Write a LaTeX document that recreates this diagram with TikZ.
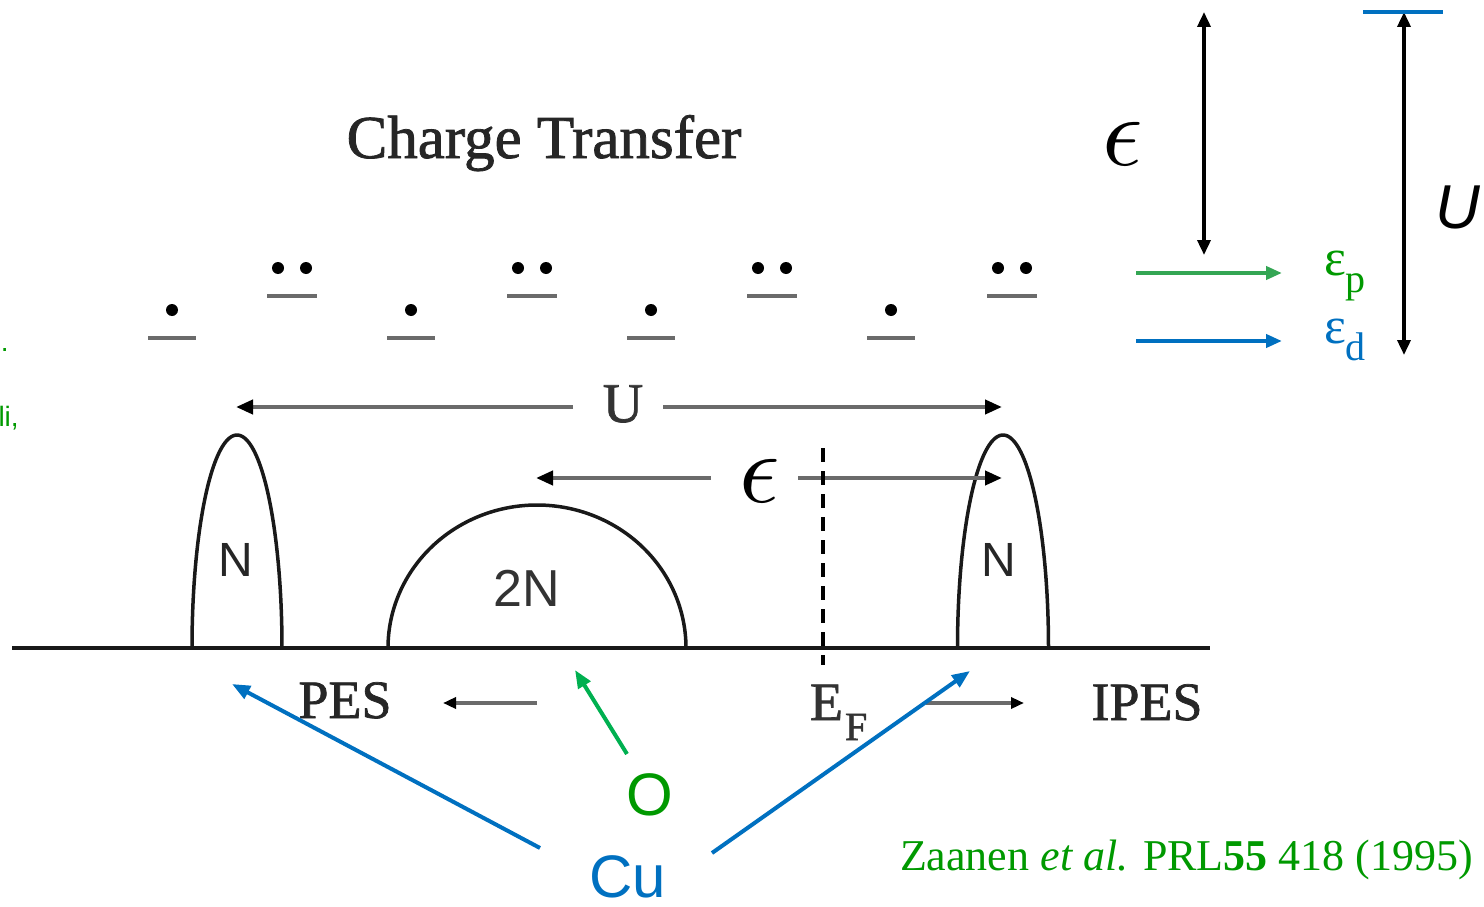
\documentclass[tikz,border=0pt]{standalone}
\usepackage{fontspec}
\usepackage{graphicx}
\usetikzlibrary{arrows.meta}
\newfontfamily\tms{Liberation Serif}
\newfontfamily\tmsb[FakeBold=1.3]{Liberation Serif}
\newfontfamily\ars{Liberation Sans}
\definecolor{cublue}{RGB}{0,112,192}
\definecolor{ogreen}{RGB}{0,176,80}
\definecolor{txtgreen}{RGB}{0,153,0}
\definecolor{epgreen}{RGB}{52,166,84}
\newcommand{\fsz}[1]{\fontsize{#1}{#1}\selectfont}
\newcommand{\bigeps}{\scalebox{10}{$\epsilon$}}
\begin{document}
\begin{tikzpicture}[x=1pt,y=-1pt,
  lbl/.style={inner sep=0pt, outer sep=0pt, anchor=base},
  scanline/.style={draw=black!58, line width=4pt},
  scanarr/.style={scanline, -{Triangle[length=17pt,width=14pt,color=black]}},
  smallarr/.style={scanline, -{Triangle[length=13pt,width=11pt,color=black]}},
  band/.style={draw=black!90, line width=3.5pt},
  levelline/.style={draw=black!58, line width=4pt},
  dotmark/.style={circle, fill=black, draw=none, inner sep=0pt, minimum size=12pt},
  cuarr/.style={draw=cublue, line width=4pt, -{Triangle[length=18pt,width=14pt]}},
  oarr/.style={draw=ogreen, line width=4pt, -{Triangle[length=18pt,width=14pt]}},
  dblarr/.style={draw=black, line width=3.5pt, {Triangle[length=15pt,width=13pt]}-{Triangle[length=15pt,width=13pt]}},
  levarr/.style={line width=4pt, -{Triangle[length=16pt,width=13pt]}}
]
\useasboundingbox (0,0) rectangle (1484,907);

% title
\node[lbl] (title) at (544,158) {\tmsb\fsz{61}\color{black!85}Charge Transfer};

% left-edge cut-off texts
\node[lbl, anchor=base west] (dotL) at (1,351) {\ars\fsz{28}\color{txtgreen}.};
\node[lbl, anchor=base west] (liL) at (-1.5,426) {\ars\fsz{28}\color{txtgreen}li,};

% levels with dots
\foreach \i/\x in {1/172,2/411,3/651,4/891}{
  \coordinate (sl\i) at (\x-24,338);
  \coordinate (sr\i) at (\x+24,338);
  \draw[levelline] (sl\i) -- (sr\i);
  \node[dotmark] (sd\i) at (\x,310) {};
}
\foreach \i/\x in {1/292,2/532,3/772,4/1012}{
  \coordinate (dl\i) at (\x-25,296);
  \coordinate (dr\i) at (\x+25,296);
  \draw[levelline] (dl\i) -- (dr\i);
  \node[dotmark] (da\i) at (\x-14,268) {};
  \node[dotmark] (db\i) at (\x+14,268) {};
}

% U arrow
\node[lbl] (Umid) at (623,422) {\tmsb\fsz{56}\color{black!80}U};
\coordinate (UL0) at (573,407); \coordinate (UL1) at (236,407);
\coordinate (UR0) at (663,407); \coordinate (UR1) at (1002,407);
\draw[scanarr] (UL0) -- (UL1);
\draw[scanarr] (UR0) -- (UR1);

% epsilon arrow
\node[lbl] (epsmid) at (760,502) {\bigeps};
\coordinate (EL0) at (711,478); \coordinate (EL1) at (536,478);
\coordinate (ER0) at (798,478); \coordinate (ER1) at (1002,478);
\draw[scanarr] (EL0) -- (EL1);

% bands
\draw[band] plot[domain=180:0,samples=90,smooth] ({237+45*cos(\x)},{648-213*sin(\x)});
\draw[band] plot[domain=180:0,samples=90,smooth] ({537+149*cos(\x)},{648-143*sin(\x)});
\draw[band] plot[domain=180:0,samples=90,smooth] ({1003+45.5*cos(\x)},{648-213*sin(\x)});
\draw[scanarr] (ER0) -- (ER1);

\node[lbl] (N1) at (236,576) {\ars\fsz{48}\color{black!85}N};
\node[lbl] (N2) at (999,576) {\ars\fsz{48}\color{black!85}N};
\node[lbl] (N2N) at (527,606) {\ars\fsz{52}\color{black!80}2N};

% Fermi level dashed line
\coordinate (EFt) at (823,448); \coordinate (EFb) at (823,665);
\draw[line width=4pt, dash pattern=on 14pt off 9pt] (EFt) -- (EFb);

% baseline
\coordinate (B0) at (12,648); \coordinate (B1) at (1210,648);
\draw[line width=4pt, black!90] (B0) -- (B1);

% bottom labels
\node[lbl] (PES) at (345,718) {\tmsb\fsz{54}\color{black!85}PES};
\coordinate (P0) at (537,703); \coordinate (P1) at (443,703);
\draw[smallarr] (P0) -- (P1);
\node[lbl, anchor=base west] (EF) at (810,720) {\tmsb\fsz{54}\color{black!80}E};
\node[lbl, anchor=base west] (EFs) at (845,740) {\tmsb\fsz{40}\color{black!80}F};
\coordinate (I0) at (926,703); \coordinate (I1) at (1024,703);
\draw[smallarr] (I0) -- (I1);
\node[lbl] (IPES) at (1147,720) {\tmsb\fsz{54}\color{black!85}IPES};

% Cu and O pointers
\node[lbl] (O) at (650,815) {\ars\fsz{60}\color{txtgreen}O};
\node[lbl] (Cu) at (628,897) {\ars\fsz{60}\color{cublue}Cu};
\coordinate (cuL0) at (540,848); \coordinate (cuL1) at (232,684);
\coordinate (cuR0) at (712,853); \coordinate (cuR1) at (970,671);
\coordinate (o0) at (627,754); \coordinate (o1) at (575,670);
\draw[cuarr] (cuL0) -- (cuL1);
\draw[cuarr] (cuR0) -- (cuR1);
\draw[oarr] (o0) -- (o1);

% right energy scheme
\coordinate (e0) at (1204,12); \coordinate (e1) at (1204,255);
\draw[dblarr] (e0) -- (e1);
\node[lbl] (epsR) at (1123,165) {\bigeps};
\coordinate (u0) at (1404,12); \coordinate (u1) at (1404,355);
\draw[dblarr] (u0) -- (u1);
\coordinate (ut0) at (1363,12); \coordinate (ut1) at (1443,12);
\draw[line width=4pt, cublue] (ut0) -- (ut1);
\node[lbl] (Uright) at (1458,228) {\ars\itshape\fsz{62}U};
\coordinate (gp0) at (1136,273); \coordinate (gp1) at (1282,273);
\draw[levarr, epgreen] (gp0) -- (gp1);
\coordinate (bd0) at (1136,341); \coordinate (bd1) at (1282,341);
\draw[levarr, cublue] (bd0) -- (bd1);
\node[lbl, anchor=base west] (epsp) at (1324,275) {\tms\fsz{52}\color{txtgreen}ε\raisebox{-17pt}{\fsz{40}p}};
\node[lbl, anchor=base west] (epsd) at (1324,343) {\tms\fsz{52}\color{cublue}ε\raisebox{-17pt}{\fsz{40}d}};

% citation
\node[lbl, anchor=base west] (cite) at (900,870) {\tms\fsz{44}\color{txtgreen}Zaanen \textit{et al.} PRL\textbf{55} 418 (1995)};
\end{tikzpicture}
\end{document}
